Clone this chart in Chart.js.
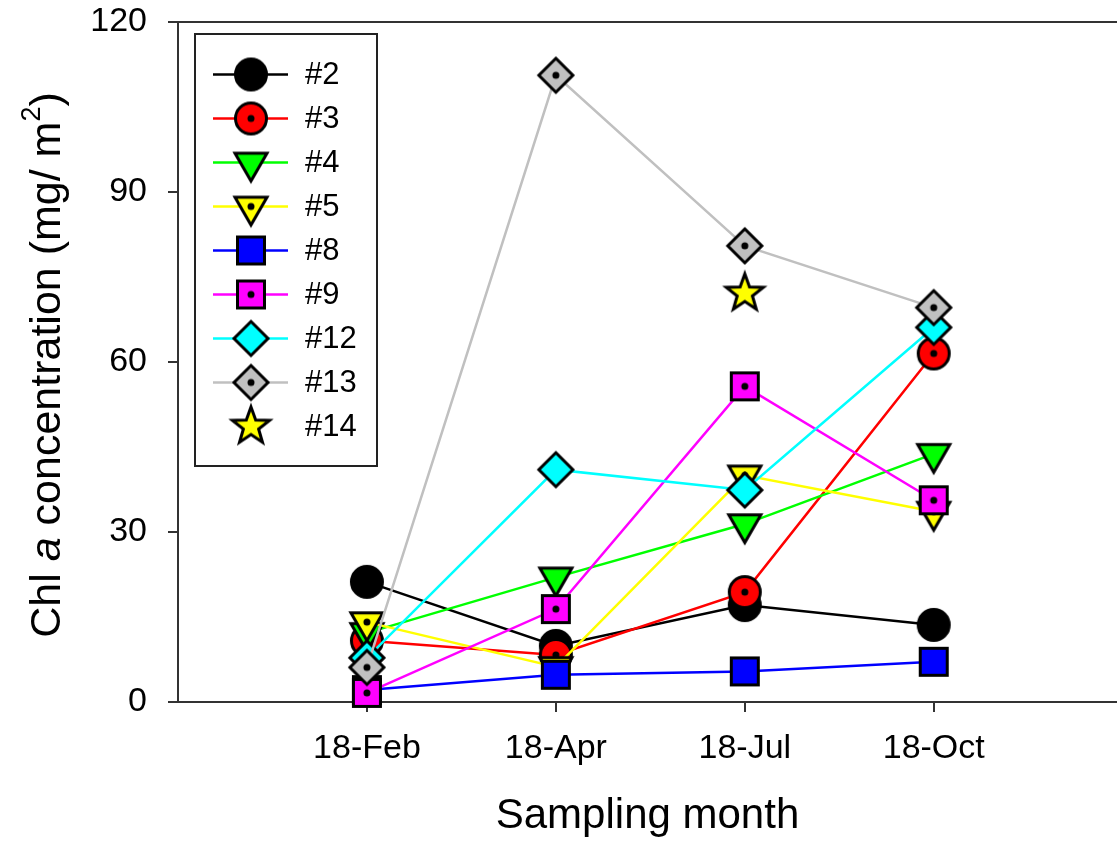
<!DOCTYPE html>
<html>
<head>
<meta charset="utf-8">
<script src="https://cdn.jsdelivr.net/npm/chart.js@4"></script>
<style>
  body { margin: 0; background: #fff; }
  #wrap { width: 1117px; height: 848px; }
</style>
</head>
<body>
<div id="wrap"><canvas id="chart"></canvas></div>
<script>
// sampling months (x categories)
const months = ['18-Feb', '18-Apr', '18-Jul', '18-Oct'];
const yTicks = [0, 30, 60, 90, 120];

// Chl a (mg/m2) per station
const st2 = [21.2, 9.9, 17.1, 13.6];
const st3 = [10.8, 8.3, 19.4, 61.5];
const st4 = [12.2, 22.0, 31.4, 43.8];
const st5 = [14.1, 6.2, 40.0, 33.6];
const st8 = [2.1, 4.8, 5.4, 7.1];
const st9 = [1.6, 16.4, 55.7, 35.6];
const st12 = [7.8, 41.0, 37.4, 66.1];
const st13 = [6.1, 110.6, 80.5, 69.6];
const st14 = [null, null, 72.1, null];

const FONT = "'Liberation Sans', Arial, sans-serif";

// symbols are drawn once to small canvases and used as pointStyle
function marker(shape, fill, dot) {
  const c = document.createElement('canvas');
  c.width = c.height = 56;
  const g = c.getContext('2d');
  g.translate(28, 28);
  g.lineWidth = 3;
  g.strokeStyle = '#000';
  g.fillStyle = fill;
  g.beginPath();
  if (shape === 'circle') {
    g.arc(0, 0, 15.5, 0, Math.PI * 2);
  } else if (shape === 'square') {
    g.rect(-13.5, -13.5, 27, 27);
  } else if (shape === 'diamond') {
    g.moveTo(0, -17); g.lineTo(17, 0); g.lineTo(0, 17); g.lineTo(-17, 0);
    g.closePath();
  } else if (shape === 'triDown') {
    const R = 18.5;
    g.moveTo(-R * Math.sin(Math.PI / 3), -R / 2);
    g.lineTo(R * Math.sin(Math.PI / 3), -R / 2);
    g.lineTo(0, R);
    g.closePath();
  } else if (shape === 'star') {
    for (let k = 0; k < 10; k++) {
      const r = k % 2 ? 8 : 19.5;
      const a = -Math.PI / 2 + k * Math.PI / 5;
      if (k === 0) g.moveTo(r * Math.cos(a), r * Math.sin(a));
      else g.lineTo(r * Math.cos(a), r * Math.sin(a));
    }
    g.closePath();
  }
  g.fill();
  g.stroke();
  if (dot) {
    g.fillStyle = '#000';
    g.beginPath();
    g.arc(0, 0, 3.5, 0, Math.PI * 2);
    g.fill();
  }
  return c;
}

const series = [
  { name: '#2', data: st2, color: '#000000', sym: marker('circle', '#000000', false) },
  { name: '#3', data: st3, color: '#ff0000', sym: marker('circle', '#ff0000', true) },
  { name: '#4', data: st4, color: '#00ff00', sym: marker('triDown', '#00ff00', false) },
  { name: '#5', data: st5, color: '#ffff00', sym: marker('triDown', '#ffff00', true) },
  { name: '#8', data: st8, color: '#0000ff', sym: marker('square', '#0000ff', false) },
  { name: '#9', data: st9, color: '#ff00ff', sym: marker('square', '#ff00ff', true) },
  { name: '#12', data: st12, color: '#00ffff', sym: marker('diamond', '#00ffff', false) },
  { name: '#13', data: st13, color: '#c0c0c0', sym: marker('diamond', '#c0c0c0', true) },
  { name: '#14', data: st14, color: '#ffff00', sym: marker('star', '#ffff00', false), noLine: true }
];

const datasets = series.map((s, i) => ({
  label: s.name,
  data: s.data.map((v, j) => ({ x: j + 1, y: v })),
  borderColor: s.color,
  borderWidth: 2.5,
  showLine: !s.noLine,
  pointStyle: s.sym,
  pointRadius: 16,
  clip: false,
  order: series.length - i   // later stations drawn on top
}));

// legend box, top border and the y title with italic "a" and superscript
const extras = {
  id: 'extras',
  afterDraw(chart) {
    const { ctx, chartArea: ca } = chart;
    ctx.save();
    ctx.strokeStyle = '#333';
    ctx.lineWidth = 2;
    ctx.beginPath();
    ctx.moveTo(ca.left, ca.top);
    ctx.lineTo(ca.right, ca.top);
    ctx.stroke();

    const bx = ca.left + 17, by = ca.top + 12, bw = 182, bh = 432;
    ctx.fillStyle = '#fff';
    ctx.fillRect(bx, by, bw, bh);
    ctx.strokeStyle = '#222';
    ctx.strokeRect(bx, by, bw, bh);
    ctx.font = '31px ' + FONT;
    ctx.textBaseline = 'middle';
    series.forEach((s, i) => {
      const y = by + 40.5 + i * 44;
      if (!s.noLine) {
        ctx.strokeStyle = s.color;
        ctx.lineWidth = 2.5;
        ctx.beginPath();
        ctx.moveTo(bx + 18, y);
        ctx.lineTo(bx + 93, y);
        ctx.stroke();
      }
      ctx.drawImage(s.sym, bx + 56 - s.sym.width / 2, y - s.sym.height / 2);
      ctx.fillStyle = '#000';
      ctx.fillText(s.name, bx + 110, y + 1);
    });

    const parts = [
      { t: 'Chl ', f: '43px ' + FONT },
      { t: 'a', f: 'italic 43px ' + FONT },
      { t: ' concentration (mg/ m', f: '43px ' + FONT },
      { t: '2', f: '27px ' + FONT, dy: -20 },
      { t: ')', f: '43px ' + FONT }
    ];
    let total = 0;
    parts.forEach(p => { ctx.font = p.f; p.w = ctx.measureText(p.t).width; total += p.w; });
    ctx.translate(60, (ca.top + ca.bottom) / 2 + 3);
    ctx.rotate(-Math.PI / 2);
    ctx.textBaseline = 'alphabetic';
    ctx.fillStyle = '#000';
    let x = -total / 2;
    parts.forEach(p => {
      ctx.font = p.f;
      ctx.fillText(p.t, x, p.dy || 0);
      x += p.w;
    });
    ctx.restore();
  }
};

new Chart(document.getElementById('chart'), {
  type: 'line',
  data: { datasets },
  options: {
    responsive: true,
    maintainAspectRatio: false,
    animation: false,
    events: [],
    layout: { autoPadding: false, padding: { top: 22, left: 0, right: 0, bottom: 0 } },
    plugins: { legend: { display: false }, tooltip: { enabled: false } },
    scales: {
      x: {
        type: 'linear',
        min: 0,
        max: 4.97,
        afterBuildTicks: s => { s.ticks = months.map((m, i) => ({ value: i + 1 })); },
        afterFit: s => { s.height = 146; },
        ticks: {
          callback: v => months[v - 1],
          font: { size: 34, family: FONT },
          color: '#000',
          padding: 16,
          maxRotation: 0,
          autoSkip: false
        },
        grid: { drawOnChartArea: false, tickLength: 10, color: '#333', lineWidth: 2 },
        border: { color: '#333', width: 2 },
        title: {
          display: true,
          text: 'Sampling month',
          font: { size: 42, family: FONT },
          color: '#000',
          padding: { top: 0, bottom: 6 }
        }
      },
      y: {
        min: 0,
        max: 120,
        afterBuildTicks: s => { s.ticks = yTicks.map(v => ({ value: v })); },
        // fixed width; drop the label overhang so the top padding alone sets the plot top
        afterFit: s => { s.width = 178; s.paddingTop = 0; s.paddingBottom = 0; },
        ticks: { font: { size: 34, family: FONT }, color: '#000', padding: 21 },
        grid: { drawOnChartArea: false, tickLength: 10, color: '#333', lineWidth: 2 },
        border: { color: '#333', width: 2 }
      }
    }
  },
  plugins: [extras]
});
</script>
</body>
</html>
